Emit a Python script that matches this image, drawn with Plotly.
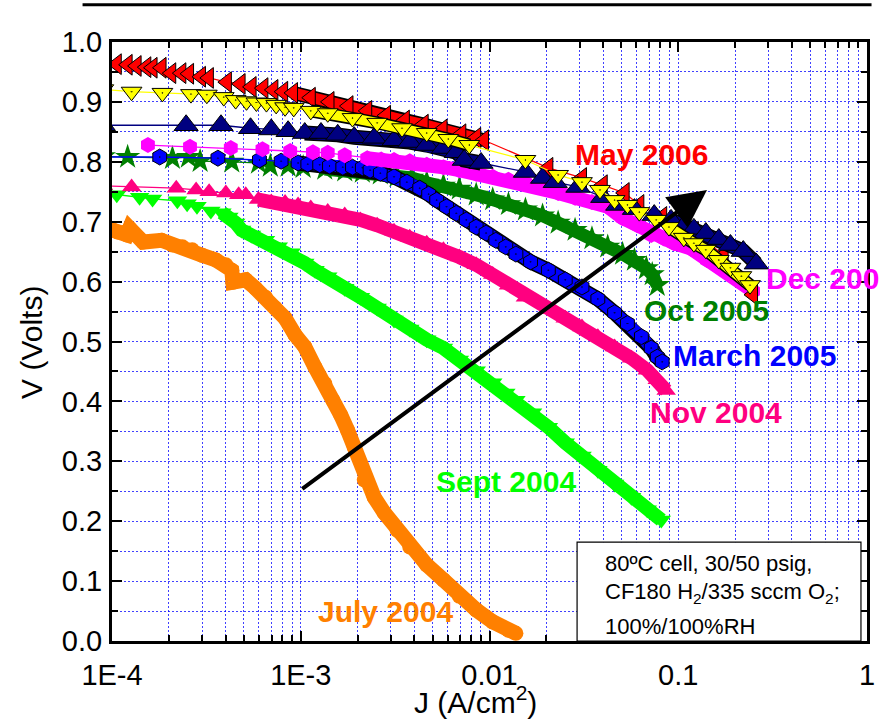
import numpy as np
import plotly.graph_objects as go

# Polarization curves: current density J (A/cm^2) vs cell voltage V (Volts)
may06_J = [1.06e-4, 1.21e-4, 1.35e-4, 1.52e-4, 1.64e-4, 1.83e-4, 2.06e-4, 2.33e-4, 2.56e-4, 2.96e-4,
           3.26e-4, 4.06e-4, 4.80e-4, 5.49e-4, 6.34e-4, 7.16e-4, 8.07e-4, 9.10e-4, 1.13e-3, 1.42e-3,
           1.79e-3, 2.25e-3, 2.83e-3, 3.56e-3, 4.48e-3, 5.64e-3, 7.09e-3, 8.50e-3, 9.35e-3, 2.05e-2,
           3.09e-2, 3.98e-2, 5.20e-2, 6.22e-2, 8.22e-2, 0.121, 0.174, 0.249]
may06_V = [0.963, 0.962, 0.960, 0.958, 0.957, 0.957, 0.948, 0.948, 0.947, 0.942,
           0.940, 0.933, 0.930, 0.925, 0.923, 0.920, 0.917, 0.915, 0.907, 0.900,
           0.893, 0.885, 0.877, 0.869, 0.862, 0.854, 0.846, 0.840, 0.836, 0.790,
           0.773, 0.761, 0.748, 0.728, 0.708, 0.683, 0.644, 0.578]

runA_J = [9.0e-5, 1.27e-4, 1.85e-4, 2.62e-4, 3.18e-4, 3.91e-4, 4.52e-4, 5.16e-4, 5.82e-4, 6.58e-4,
          7.41e-4, 8.26e-4, 9.18e-4, 1.13e-3, 1.39e-3, 1.88e-3, 2.54e-3, 3.44e-3, 4.65e-3, 6.05e-3,
          7.82e-3, 1.55e-2, 2.31e-2, 3.09e-2, 3.85e-2, 4.60e-2, 5.38e-2, 6.22e-2, 7.64e-2, 8.93e-2,
          0.107, 0.121, 0.140, 0.164, 0.189, 0.216, 0.240]
runA_V = [0.921, 0.917, 0.915, 0.913, 0.912, 0.908, 0.903, 0.901, 0.899, 0.898,
          0.895, 0.891, 0.890, 0.885, 0.881, 0.873, 0.865, 0.856, 0.848, 0.838,
          0.828, 0.803, 0.778, 0.766, 0.753, 0.736, 0.728, 0.716, 0.703, 0.691,
          0.673, 0.664, 0.653, 0.636, 0.623, 0.609, 0.594]

runB_J = [9.0e-5, 2.47e-4, 3.78e-4, 5.42e-4, 6.98e-4, 8.57e-4, 1.05e-3, 1.28e-3, 1.57e-3, 1.92e-3,
          2.45e-3, 3.12e-3, 3.78e-3, 4.65e-3, 5.70e-3, 6.67e-3, 7.35e-3, 9.02e-3, 1.55e-2, 1.91e-2,
          2.23e-2, 2.94e-2, 3.98e-2, 4.78e-2, 5.86e-2, 7.46e-2, 9.16e-2, 0.107, 0.121, 0.140,
          0.164, 0.189, 0.221, 0.259]
runB_V = [0.861, 0.861, 0.861, 0.856, 0.854, 0.851, 0.848, 0.848, 0.845, 0.841,
          0.840, 0.836, 0.833, 0.828, 0.823, 0.816, 0.803, 0.798, 0.783, 0.773,
          0.766, 0.758, 0.741, 0.728, 0.721, 0.711, 0.703, 0.693, 0.688, 0.681,
          0.671, 0.661, 0.651, 0.630]

dec05_J = [1.55e-4, 2.59e-4, 4.26e-4, 6.27e-4, 8.79e-4, 1.16e-3, 1.39e-3, 1.71e-3, 2.25e-3, 2.67e-3,
           3.12e-3, 3.78e-3, 4.65e-3, 5.70e-3, 6.92e-3, 8.50e-3, 1.04e-2, 1.26e-2, 1.55e-2, 1.91e-2,
           2.31e-2, 2.84e-2, 3.49e-2, 4.23e-2, 5.07e-2, 6.08e-2, 7.19e-2, 8.41e-2, 9.51e-2, 0.117,
           0.142, 0.167, 0.196, 0.221, 0.249]
dec05_V = [0.828, 0.825, 0.823, 0.821, 0.818, 0.816, 0.815, 0.811, 0.806, 0.804,
           0.803, 0.801, 0.795, 0.791, 0.786, 0.780, 0.775, 0.770, 0.765, 0.758,
           0.748, 0.740, 0.733, 0.725, 0.706, 0.694, 0.678, 0.672, 0.664, 0.655,
           0.636, 0.625, 0.608, 0.597, 0.584]

oct05_J = [9.0e-5, 1.21e-4, 2.09e-4, 2.54e-4, 2.93e-4, 4.31e-4, 5.97e-4, 6.90e-4, 8.57e-4, 1.03e-3,
           1.34e-3, 1.71e-3, 2.12e-3, 2.64e-3, 3.24e-3, 3.87e-3, 4.65e-3, 5.70e-3, 6.92e-3, 8.50e-3,
           1.04e-2, 1.26e-2, 1.55e-2, 1.91e-2, 2.31e-2, 2.84e-2, 3.49e-2, 4.23e-2, 5.07e-2, 5.86e-2,
           6.78e-2, 7.28e-2, 7.74e-2]
oct05_V = [0.809, 0.808, 0.806, 0.808, 0.801, 0.800, 0.798, 0.793, 0.793, 0.791,
           0.788, 0.785, 0.783, 0.780, 0.776, 0.773, 0.765, 0.760, 0.755, 0.745,
           0.737, 0.729, 0.720, 0.710, 0.698, 0.686, 0.672, 0.658, 0.646, 0.636,
           0.622, 0.612, 0.594]

mar05_J = [9.0e-5, 1.79e-4, 3.64e-4, 6.04e-4, 7.87e-4, 9.68e-4, 1.09e-3, 1.26e-3, 1.42e-3, 1.67e-3,
           1.88e-3, 2.12e-3, 2.33e-3, 2.64e-3, 3.12e-3, 3.65e-3, 4.27e-3, 4.76e-3, 5.25e-3, 5.92e-3,
           6.67e-3, 7.53e-3, 8.50e-3, 9.59e-3, 1.08e-2, 1.22e-2, 1.38e-2, 1.65e-2, 2.05e-2, 2.52e-2,
           3.09e-2, 3.75e-2, 4.60e-2, 5.38e-2, 6.38e-2, 7.19e-2, 7.74e-2, 8.22e-2]
mar05_V = [0.808, 0.808, 0.806, 0.803, 0.801, 0.798, 0.796, 0.795, 0.793, 0.791,
           0.791, 0.790, 0.786, 0.781, 0.775, 0.766, 0.756, 0.746, 0.736, 0.725,
           0.714, 0.703, 0.691, 0.681, 0.669, 0.658, 0.646, 0.633, 0.619, 0.603,
           0.591, 0.571, 0.548, 0.530, 0.508, 0.489, 0.474, 0.466]

nov04_J = [9.0e-5, 1.27e-4, 2.19e-4, 2.79e-4, 3.27e-4, 4.01e-4, 4.69e-4, 5.11e-4, 5.97e-4, 6.98e-4,
           8.26e-4, 9.68e-4, 1.13e-3, 1.39e-3, 1.71e-3, 2.07e-3, 2.54e-3, 3.12e-3, 3.78e-3, 4.65e-3,
           5.70e-3, 6.92e-3, 8.50e-3, 1.04e-2, 1.26e-2, 1.55e-2, 2.05e-2, 2.52e-2, 3.09e-2, 3.75e-2,
           4.60e-2, 5.65e-2, 6.85e-2, 7.74e-2, 8.63e-2]
nov04_V = [0.760, 0.758, 0.756, 0.753, 0.750, 0.748, 0.745, 0.745, 0.737, 0.733,
           0.732, 0.728, 0.723, 0.717, 0.711, 0.703, 0.694, 0.684, 0.674, 0.664,
           0.653, 0.641, 0.628, 0.612, 0.594, 0.574, 0.553, 0.539, 0.524, 0.508,
           0.491, 0.472, 0.452, 0.436, 0.418]

sep04_J = [9.0e-5, 1.06e-4, 1.40e-4, 1.64e-4, 2.22e-4, 2.50e-4, 2.82e-4, 3.34e-4, 3.82e-4, 4.16e-4,
           4.52e-4, 4.86e-4, 5.48e-4, 6.50e-4, 7.60e-4, 8.89e-4, 1.05e-3, 1.19e-3, 1.39e-3, 1.71e-3,
           2.07e-3, 2.54e-3, 3.12e-3, 3.78e-3, 4.65e-3, 5.70e-3, 6.92e-3, 8.50e-3, 1.04e-2, 1.22e-2,
           1.38e-2, 1.69e-2, 2.05e-2, 2.52e-2, 3.09e-2, 3.75e-2, 4.60e-2, 5.65e-2, 6.85e-2, 8.13e-2]
sep04_V = [0.748, 0.745, 0.741, 0.738, 0.735, 0.730, 0.726, 0.718, 0.715, 0.708,
           0.698, 0.686, 0.678, 0.669, 0.658, 0.648, 0.631, 0.619, 0.608, 0.589,
           0.574, 0.556, 0.536, 0.521, 0.503, 0.489, 0.469, 0.451, 0.431, 0.414,
           0.402, 0.381, 0.357, 0.331, 0.309, 0.285, 0.262, 0.240, 0.219, 0.202]

jul04_J = [1.01e-4, 1.07e-4, 1.20e-4, 1.24e-4, 1.46e-4, 1.83e-4, 2.09e-4, 2.36e-4, 2.66e-4, 3.00e-4,
           3.55e-4, 4.01e-4, 4.31e-4, 4.37e-4, 5.11e-4, 5.75e-4, 6.50e-4, 7.33e-4, 8.26e-4, 9.33e-4,
           1.05e-3, 1.19e-3, 1.34e-3, 1.48e-3, 1.63e-3, 1.77e-3, 1.92e-3, 2.17e-3, 2.45e-3, 2.77e-3,
           3.24e-3, 3.78e-3, 4.65e-3, 5.70e-3, 6.92e-3, 8.50e-3, 1.04e-2, 1.26e-2, 1.38e-2]
jul04_V = [0.686, 0.683, 0.678, 0.689, 0.666, 0.669, 0.661, 0.658, 0.653, 0.644,
           0.636, 0.628, 0.619, 0.599, 0.603, 0.589, 0.574, 0.556, 0.539, 0.511,
           0.491, 0.457, 0.430, 0.402, 0.377, 0.352, 0.324, 0.269, 0.240, 0.214,
           0.185, 0.157, 0.127, 0.102, 0.075, 0.052, 0.032, 0.018, 0.013]

# Axis ticks
x_major = [1e-4, 1e-3, 1e-2, 1e-1, 1.0]
x_major_text = ["1E-4", "1E-3", "0.01", "0.1", "1"]
x_minor = [k * 10.0 ** d for d in range(-4, 0) for k in range(2, 10)]

# Trend arrow (tail -> head), J and V
arrow_tail = (1.0e-3, 0.252)
arrow_head = (0.142, 0.753)

FONT = "Arial, Liberation Sans, sans-serif"
GRID = "rgba(0,0,255,0.75)"

RED = "#FF0000"
YELLOW = "#FFFF00"
NAVY = "#000080"
MAGENTA = "#FF00FF"
DKGREEN = "#008000"
BLUE = "#0000FF"
PINK = "#FF0080"
LIME = "#00FF00"
ORANGE = "#FF8000"

# name, J, V, colour, symbol, size, black outline, band width, band J-ranges, outlined band
series = [
    ("July 2004", jul04_J, jul04_V, ORANGE, "circle", 15, False, 15, [(1.0e-4, 0.02)], False),
    ("Sept 2004", sep04_J, sep04_V, LIME, "triangle-down", 17, False, 14, [(3.5e-4, 0.09)], False),
    ("Nov 2004", nov04_J, nov04_V, PINK, "triangle-up", 17, False, 14, [(5.5e-4, 0.09)], False),
    ("Oct 2005", oct05_J, oct05_V, DKGREEN, "star", 19, False, 13, [(1.2e-3, 0.08)], False),
    ("March 2005", mar05_J, mar05_V, BLUE, "hexagon-dot", 16, True, 12, [(9.0e-4, 0.09)], True),
    ("Dec 2005", dec05_J, dec05_V, MAGENTA, "hexagon", 16, False, 14, [(2.0e-3, 0.26)], False),
    ("May 2006", may06_J, may06_V, RED, "triangle-left", 18, True, 11, [(9.0e-4, 1.0e-2)], True),
    ("Run B", runB_J, runB_V, NAVY, "triangle-up", 21, True, 12, [(1.0e-3, 9.1e-3), (8.5e-2, 0.27)], True),
    ("Run A", runA_J, runA_V, YELLOW, "triangle-down-dot", 18, True, 10, [(1.0e-3, 8.0e-3), (8.5e-2, 0.25)], True),
]

fig = go.Figure()

for name, J, V, color, symbol, size, outlined, bw, ranges, band_outline in series:
    J = np.asarray(J, dtype=float)
    V = np.asarray(V, dtype=float)
    inside = np.zeros(len(J), dtype=bool)
    for lo, hi in ranges:
        inside |= (J >= lo) & (J <= hi)
    bj = [float(j) if m else None for j, m in zip(J, inside)]
    bv = [float(v) if m else None for v, m in zip(V, inside)]
    # dense stretch of overlapping symbols drawn as a thick band
    if band_outline:
        fig.add_trace(go.Scatter(x=bj, y=bv, mode="lines", hoverinfo="skip",
                                 line=dict(color="black", width=bw + 3)))
    fig.add_trace(go.Scatter(x=bj, y=bv, mode="lines", hoverinfo="skip",
                             line=dict(color=color, width=bw)))
    fig.add_trace(go.Scatter(
        x=J, y=V, mode="lines+markers", name=name,
        line=dict(color=color, width=1.3),
        marker=dict(symbol=symbol, size=size, color=color,
                    line=dict(color="black", width=1 if outlined else 0)),
    ))

annotations = []

# Series labels: text, left-edge J, centre V, colour
labels = [
    ("May 2006", 0.0277, 0.813, RED),
    ("Dec 2005", 0.285, 0.606, MAGENTA),
    ("Oct 2005", 0.0646, 0.551, DKGREEN),
    ("March 2005", 0.0917, 0.476, BLUE),
    ("Nov 2004", 0.0693, 0.381, PINK),
    ("Sept 2004", 0.00511, 0.267, LIME),
    ("July 2004", 0.0012, 0.050, ORANGE),
]
for text, lj, lv, col in labels:
    annotations.append(dict(x=np.log10(lj), y=lv, xref="x", yref="y", text=f"<b>{text}</b>",
                            showarrow=False, xanchor="left", yanchor="middle",
                            font=dict(family=FONT, size=30, color=col)))

# Trend arrow
annotations.append(dict(x=np.log10(arrow_head[0]), y=arrow_head[1],
                        ax=np.log10(arrow_tail[0]), ay=arrow_tail[1],
                        xref="x", yref="y", axref="x", ayref="y", text="",
                        showarrow=True, arrowhead=2, arrowsize=1.9, arrowwidth=4,
                        arrowcolor="black", standoff=0))

# Test-condition note
note_lines = [
    ("80ºC cell, 30/50 psig,", 0.130),
    ("CF180 H<sub>2</sub>/335 sccm O<sub>2</sub>;", 0.080),
    ("100%/100%RH", 0.025),
]
for text, py in note_lines:
    annotations.append(dict(x=0.650, y=py, xref="paper", yref="paper", text=text,
                            showarrow=False, xanchor="left", yanchor="middle",
                            font=dict(family=FONT, size=22, color="black")))

# Axis titles
annotations.append(dict(x=-0.1075, y=0.499, xref="paper", yref="paper", text="V (Volts)",
                        showarrow=False, textangle=-90, xanchor="center", yanchor="middle",
                        font=dict(family=FONT, size=30, color="black")))
annotations.append(dict(x=0.482, y=-0.098, xref="paper", yref="paper",
                        text="J (A/cm<sup>2</sup>)", showarrow=False,
                        xanchor="center", yanchor="middle",
                        font=dict(family=FONT, size=30, color="black")))

shapes = [
    dict(type="rect", xref="paper", yref="paper", x0=0.616, x1=0.992, y0=0.0, y1=0.165,
         line=dict(color="black", width=1.2), fillcolor="white", layer="above"),
    dict(type="line", xref="paper", yref="paper", x0=-0.039, x1=1.006, y0=1.062, y1=1.062,
         line=dict(color="black", width=3)),
]

common_axis = dict(
    showline=True, linewidth=3, linecolor="black", mirror="allticks",
    ticks="inside", ticklen=10, tickwidth=2, tickcolor="black",
    showgrid=True, gridcolor=GRID, griddash="2px,2px", gridwidth=1,
    zeroline=False, tickfont=dict(family=FONT, size=29, color="black"),
    ticklabeloverflow="allow",
)
minor_common = dict(ticks="inside", ticklen=6, tickwidth=1.5, tickcolor="black",
                    showgrid=True, gridcolor=GRID, griddash="2px,2px", gridwidth=1)

fig.update_layout(
    width=879, height=721, autosize=False,
    margin=dict(l=112, r=4, t=42, b=80),
    paper_bgcolor="white", plot_bgcolor="white",
    showlegend=False,
    font=dict(family=FONT, color="black"),
    xaxis=dict(type="log", range=[-4, 0], tickmode="array", tickvals=x_major,
               ticktext=x_major_text, ticklabelstandoff=6,
               minor=dict(tickmode="array", tickvals=x_minor, **minor_common),
               **common_axis),
    yaxis=dict(range=[0, 1.0], tickmode="linear", tick0=0, dtick=0.1, tickformat=".1f",
               ticklabelstandoff=1,
               minor=dict(tick0=0, dtick=0.05, **minor_common),
               **common_axis),
    annotations=annotations,
    shapes=shapes,
)

fig.write_html("out.html")
